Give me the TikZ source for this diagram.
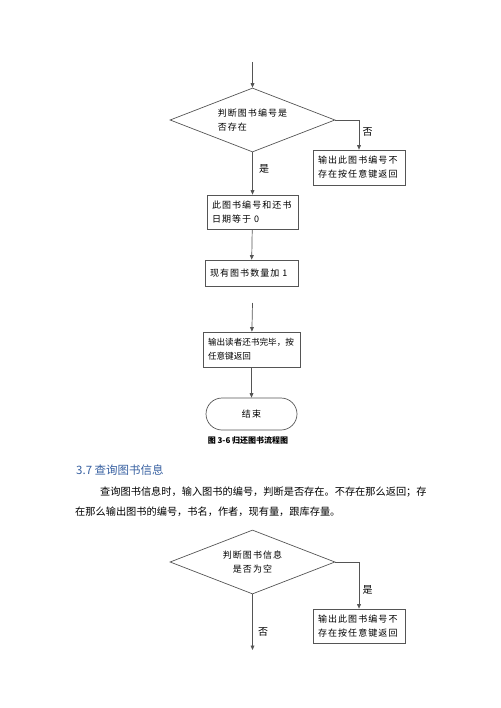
\documentclass[tikz,border=0pt]{standalone}
\usepackage{fontspec}
\setmainfont{Noto Sans CJK SC}
\newfontfamily\boxfont{Noto Sans CJK SC}[LetterSpace=12]
\usetikzlibrary{shapes.geometric,arrows.meta}
\definecolor{linegray}{RGB}{85,85,85}
\definecolor{headblue}{RGB}{54,95,160}
\begin{document}
\begin{tikzpicture}[x=1pt,y=-1pt,
  flowline/.style={draw=linegray, line width=0.7pt},
  arr/.style={flowline, -{Triangle[length=4.5pt,width=3.8pt]}},
  box/.style={flowline, rectangle, align=left, inner xsep=5pt, inner ysep=0pt, font=\boxfont\fontsize{9}{14}\selectfont},
  dec/.style={flowline, diamond, aspect=2.6, inner sep=0pt, minimum width=165pt, minimum height=64pt, align=left, font=\boxfont\fontsize{9}{14}\selectfont},
  lab/.style={font=\fontsize{10}{12}\selectfont}]
\useasboundingbox (0,0) rectangle (500,708);
\coordinate (in1) at (252.5,62);
\coordinate (in2) at (252.5,303);
\coordinate (out2) at (252.5,650);
\node[dec] (chk1) at (252.5,120) {判断图书编号是\\否存在};
\node[box, text width=82pt, minimum height=35pt] (nobook1) at (359,167.5) {输出此图书编号不\\存在按任意键返回};
\node[box, text width=81pt, minimum height=34pt] (reset) at (252.5,212) {此图书编号和还书\\日期等于 0};
\node[box, text width=83pt, minimum height=26pt] (count) at (251.5,273) {现有图书数量加 1};
\node[box, text width=87pt, minimum height=35pt, font=\fontsize{8.6}{14}\selectfont] (done) at (251.5,349.5) {输出读者还书完毕，按\\任意键返回};
\node[flowline, rounded corners=16pt, minimum width=91pt, minimum height=32pt, font=\boxfont\fontsize{9}{12}\selectfont] (stop) at (251.5,414) {结束};
\node[font=\bfseries\fontsize{8}{10}\selectfont] (cap) at (248,440) {图 3-6 归还图书流程图};
\node[anchor=west, inner sep=0pt, text=headblue, font=\fontsize{11.5}{14}\selectfont] (sec) at (76,470) {3.7 查询图书信息};
\node[anchor=west, inner sep=0pt, font=\fontsize{10.2}{12}\selectfont] (para1) at (100,492) {查询图书信息时，输入图书的编号，判断是否存在。不存在那么返回；存};
\node[anchor=west, inner sep=0pt, font=\fontsize{10.2}{12}\selectfont] (para2) at (75,512) {在那么输出图书的编号，书名，作者，现有量，跟库存量。};
\node[dec, align=center] (chk2) at (252.5,562) {判断图书信息\\是否为空};
\node[box, text width=82pt, minimum height=34pt] (nobook2) at (359,626) {输出此图书编号不\\存在按任意键返回};
\draw[arr] (in1) -- (chk1);
\draw[arr] (chk1.east) -| node[lab, pos=0.7, right] {否} (nobook1.north);
\draw[arr] (chk1.south) -- node[lab, pos=0.38, right, xshift=3pt] {是} (reset.north);
\draw[arr] (reset) -- (count);
\draw[arr] (in2) -- (done);
\draw[arr] (done) -- (stop);
\draw[arr] (chk2.east) -| node[lab, pos=0.8, right] {是} (nobook2.north);
\draw[arr] (chk2.south) -- node[lab, pos=0.67, right, xshift=2pt] {否} (out2);
\end{tikzpicture}
\end{document}
